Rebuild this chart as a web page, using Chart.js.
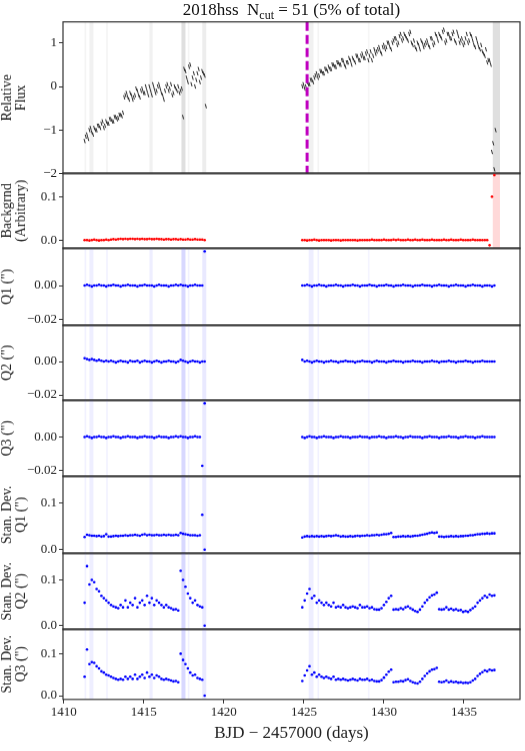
<!DOCTYPE html>
<html><head><meta charset="utf-8">
<script src="https://cdn.jsdelivr.net/npm/chart.js@4.4.0/dist/chart.umd.min.js"></script>
<style>
body{margin:0;background:#fff;width:525px;height:751px;position:relative;overflow:hidden}
canvas{position:absolute;left:0}
#title{position:absolute;top:0px;left:63px;width:457px;text-align:center;font:17px "Liberation Serif",serif;color:#111;z-index:5}
</style></head><body>
<div id="title">2018hss&nbsp; N<sub style="font-size:12px">cut</sub> = 51 (5% of total)</div>
<script>
// sampling grids (days) for the two observing segments
const seg1Start = 1411.3, seg2Start = 1424.9, step = 0.15, halfStep = 0.075;
const flux1 = [-1.25,-1.1,-1.0,-1.05,-0.95,-1.0,-0.9,-0.85,-0.95,-0.8,-0.85,-0.75,-0.8,-0.7,-0.72,-0.65,-0.6,
 -0.2,-0.25,-0.15,-0.3,-0.2,-0.1,-0.25,-0.05,-0.15,-0.1,0.0,-0.2,-0.05,-0.1,0.05,-0.15,-0.3,0.0,-0.1,0.05,-0.15,-0.05,0.0,-0.1,
 -0.7,0.35,0.1,0.5,0.2,0.0,0.3,0.1,0.35,0.25];
const flux1b = [-1.15,-1.2,-0.95,-1.1,-1.0,-0.9,-0.95,-0.8,-0.9,-0.85,-0.75,-0.8,-0.7,-0.75,-0.65,-0.68,
 -0.25,-0.15,-0.3,-0.2,-0.25,-0.05,-0.2,-0.1,-0.15,0.0,-0.2,-0.1,0.05,-0.15,0.0,-0.05,-0.2,-0.1,0.05,-0.05,-0.2,0.0,-0.1,-0.15,-0.05,
 0.4,0.2,0.45,0.05,0.3,0.15,0.4,0.2,0.3,-0.45];
const flux2 = [0.0,-0.05,0.1,0.05,0.15, 0.2,0.3,0.25,0.35,0.3,0.4,
 0.45,0.4,0.5,0.45,0.55,0.5,0.6,0.45,0.55,0.6, 0.65,0.55,0.7,0.6,0.75,0.65,0.8,0.7,0.6,0.85,
 0.8,0.9,0.75,0.95,0.9,1.0,0.85,1.05,1.1,1.0, 1.2,1.1,1.15,1.05,1.25,0.95,0.9,1.0,0.85,1.0,
 0.95,1.05,0.9,1.1,1.0,1.15,1.2,1.1,1.3,1.05, 1.2,1.1,1.25,1.0,1.15,1.05,0.95,1.1,1.0,1.2,
 1.05,0.9,1.0,0.85,0.8,0.7,0.55,0.6,-1.5,-1.9];
const flux2b = [0.05,0.0,0.05,0.15,0.1, 0.25,0.2,0.35,0.3,0.4,0.35,
 0.4,0.5,0.45,0.55,0.5,0.6,0.5,0.55,0.65,0.5, 0.6,0.7,0.6,0.7,0.65,0.75,0.6,0.8,0.7,0.75,
 0.85,0.8,0.9,0.85,1.0,0.9,1.0,1.1,0.95,1.15, 1.05,1.2,1.1,1.2,1.0,1.05,0.85,0.95,1.05,0.9,
 1.0,0.95,1.1,0.95,1.2,1.05,1.15,1.25,1.0,1.2, 1.1,1.2,1.05,1.25,1.0,1.1,1.0,1.2,1.05,1.15,
 0.95,1.1,0.9,0.95,0.75,0.85,0.6,0.5,-1.3,-1.0];
const bg1 = [0,0,-0.001,0,0.001,0,-0.001,0,0,0.001, 0,0.001,0.002,0.001,0.002,0.003,0.002,0.003,0.002,0.003,
 0.003,0.002,0.003,0.002,0.003,0.002,0.002,0.003,0.002,0.002, 0.003,0.002,0.002,0.001,0.002,0.002,0.001,0.002,0.002,0.001,
 0.002,0.001,0.001,0.002,0.001,0.001,0.002,0.001,0.001,0.001,0];
const bg2 = [0,0,-0.001,0,0,0.001,0,-0.001,0,0, 0,0,-0.001,0,0,0,-0.001,0,0,0, 0,0,0,-0.001,0,0,0,0,0,0.001,
 0,0,0,0,0.001,0,0,0,0.001,0, 0.001,0,0,0,0.001,0,0,0.001,0,0, 0.001,0,0,0,0.001,0,0,0,0,0.001,
 0,0,0.001,0,0,0,0.001,0,0,0, 0,0.001,0,0,0,0,0,0,-0.012,0.1,0.15];
const q1a = [0,0.0005,0,-0.0005,0,0,0.0005,0,0,-0.0005, 0,0,0.0005,0,0,-0.0005,0,0,0.0005,0, 0,0,-0.0005,0,0,0.0005,0,0,0,-0.0005,
 0,0.0005,0,0,0,-0.0005,0,0,0.0005,0, 0.0005,0,0,-0.0005,0,0,0.0005,0,0,0,0.02];
const q1b = [0,0,0.0005,0,-0.0005,0,0,0.0005,0,0, -0.0005,0,0,0,0.0005,0,0,-0.0005,0,0, 0,0.0005,0,0,-0.0005,0,0,0,0.0005,0,
 0,-0.0005,0,0,0,0.0005,0,0,-0.0005,0, 0,0,0.0005,0,0,0,-0.0005,0,0,0, 0.0005,0,0,0,-0.0005,0,0,0.0005,0,0,
 0,-0.0005,0,0,0.0005,0,0,0,-0.0005,0, 0,0.0005,0,0,0,-0.0005,0,0,0,-0.0005,0];
const q2a = [0.002,0.0015,0.001,0.0015,0.001,0.0005,0.001,0.0005,0,0.0005, 0,0.0005,0,-0.0005,0,0.0005,0,0,-0.0005,0.0005,
 0,0,0.0005,-0.0005,0,0.0005,0,0,-0.0005,0, 0.0005,0,-0.0005,0,0,0.0005,0,0,-0.0005,0, 0.001,0.0005,0,-0.0005,0,0.0005,0,0,-0.0005,0,0];
const q2b = [0.001,0,0.0005,0,-0.0005,0,0.0005,0,0,-0.0005, 0,0,0.0005,0,0,-0.0005,0,0,0.0005,0, 0,0,-0.0005,0,0,0.0005,0,0,0,-0.0005,
 0,0.0005,0,0,0,-0.0005,0,0,0.0005,0, 0,0,-0.0005,0,0,0,0.0005,0,0,0, -0.0005,0,0,0,0.0005,0,0,-0.0005,0,0,
 0,0.0005,0,0,-0.0005,0,0,0,0.0005,0, 0,-0.0005,0,0,0,0.0005,0,0,0,0,0];
const q3a = [0,0.0005,0,-0.0005,0,0,0.0005,0,0,-0.0005, 0,0,0.0005,0,0,-0.0005,0,0,0.0005,0, 0,0,-0.0005,0,0,0.0005,0,0,0,-0.0005,
 0,0.0005,0,0,0,-0.0005,0,0,0.0005,0, 0.0005,0,0,-0.0005,0,0,0.0005,0,0,-0.017,0.02];
const q3b = [0,-0.0005,0,0.0005,0,0,-0.0005,0,0,0.0005, 0,0,0,-0.0005,0,0,0.0005,0,0,0, -0.0005,0,0,0,0.0005,0,0,0,-0.0005,0,
 0,0,0.0005,0,0,-0.0005,0,0,0,0.0005, 0,0,-0.0005,0,0,0.0005,0,0,0,0, -0.0005,0,0,0.0005,0,0,0,-0.0005,0,0,
 0,0.0005,0,0,0,-0.0005,0,0,0.0005,0, 0,0,-0.0005,0,0,0.0005,0,0,0,0,0];
const sdq1a = [0.027,0.032,0.031,0.03,0.03,0.029,0.03,0.028,0.029,0.033, 0.028,0.028,0.029,0.03,0.029,0.03,0.03,0.031,0.03,0.031,
 0.031,0.032,0.031,0.03,0.032,0.033,0.031,0.032,0.031,0.031, 0.032,0.031,0.031,0.032,0.031,0.032,0.031,0.031,0.032,0.031,
 0.036,0.034,0.033,0.032,0.031,0.031,0.031,0.03,0.031,0.075,0.0];
const sdq1b = [0.026,0.028,0.029,0.028,0.029,0.028,0.029,0.028,0.029,0.028, 0.029,0.03,0.029,0.03,0.031,0.03,0.028,0.029,0.028,0.028,
 0.029,0.028,0.029,0.03,0.029,0.03,0.03,0.031,0.03,0.031, 0.031,0.032,0.031,0.032,0.033,0.033,0.034,0.036,
 0.027,0.027,0.028,0.028,0.029,0.028,0.029,0.028,0.029,0.03, 0.03,0.031,0.032,0.033,0.034,0.036,0.037,0.036,0.037,
 0.028,0.028,0.027,0.028,0.028,0.029,0.028,0.029,0.028,0.029, 0.029,0.03,0.03,0.031,0.031,0.032,0.033,0.033,0.034,0.034,0.035,0.034,0.035,0.035];
const sdq2a = [0.05,0.13,0.09,0.1,0.095,0.08,0.075,0.065,0.06,0.055, 0.05,0.045,0.042,0.04,0.038,0.045,0.04,0.055,0.04,0.05,
 0.045,0.06,0.04,0.05,0.055,0.045,0.065,0.05,0.06,0.045, 0.055,0.05,0.045,0.04,0.045,0.04,0.038,0.035,0.036,0.033,
 0.12,0.1,0.085,0.07,0.06,0.05,0.055,0.045,0.042,0.04,0.0];
const sdq2b = [0.04,0.055,0.07,0.08,0.06,0.065,0.05,0.055,0.05,0.045, 0.05,0.045,0.042,0.05,0.04,0.042,0.04,0.045,0.04,0.038,
 0.04,0.042,0.04,0.038,0.045,0.04,0.04,0.042,0.038,0.04, 0.036,0.035,0.035,0.038,0.045,0.052,0.06,0.065,
 0.035,0.036,0.035,0.038,0.036,0.04,0.042,0.038,0.035,0.032, 0.03,0.035,0.042,0.05,0.056,0.062,0.066,0.068,0.072,
 0.036,0.035,0.036,0.04,0.035,0.037,0.034,0.036,0.033,0.034, 0.03,0.032,0.03,0.034,0.038,0.042,0.05,0.055,0.06,0.065,0.062,0.068,0.065,0.066];
const sdq3a = [0.045,0.11,0.075,0.08,0.078,0.07,0.065,0.058,0.055,0.05, 0.048,0.045,0.042,0.04,0.038,0.04,0.038,0.045,0.04,0.045,
 0.04,0.05,0.04,0.045,0.05,0.042,0.055,0.045,0.05,0.042, 0.048,0.045,0.04,0.038,0.04,0.038,0.036,0.034,0.035,0.032,
 0.1,0.085,0.075,0.065,0.055,0.048,0.05,0.042,0.04,0.038,0.0];
const sdq3b = [0.035,0.048,0.06,0.07,0.05,0.055,0.045,0.05,0.045,0.042, 0.045,0.042,0.04,0.045,0.038,0.04,0.038,0.04,0.038,0.036,
 0.038,0.04,0.038,0.036,0.04,0.038,0.038,0.04,0.036,0.038, 0.035,0.034,0.034,0.037,0.043,0.05,0.057,0.062,
 0.032,0.033,0.033,0.035,0.034,0.037,0.039,0.035,0.032,0.03, 0.029,0.033,0.04,0.047,0.053,0.058,0.062,0.063,0.066,
 0.033,0.032,0.033,0.036,0.032,0.034,0.032,0.033,0.031,0.032, 0.03,0.031,0.03,0.032,0.036,0.04,0.047,0.052,0.056,0.06,0.058,0.062,0.06,0.061];
// cut intervals [start, end, alpha]
const cutBands = [[1411.3,1411.4,0.5],[1411.6,1411.85,0.6],[1412.65,1412.75,0.5],[1415.35,1415.55,0.6],
 [1417.35,1417.6,1.4],[1417.75,1417.85,0.5],[1418.65,1418.9,0.8],[1425.3,1425.6,0.6],[1425.85,1425.95,0.5],[1429.0,1429.1,0.4]];
const endBand = [1436.8,1437.25];
const eventDay = 1425.2;
const xTicks = [1410,1415,1420,1425,1430,1435];

function pts(start, vals){ return vals.map((v,i)=>({x:+(start+i*step).toFixed(3), y:v})); }
function both(a,b){ return pts(seg1Start,a).concat(pts(seg2Start,b)); }
function bothHalf(a,b){ return pts(seg1Start+halfStep,a).concat(pts(seg2Start+halfStep,b)); }

const serif = '"Liberation Serif", "DejaVu Serif", serif';
const panels = [
 {top:22,h:151,title:['Relative','Flux'],data:both(flux1,flux2).concat(bothHalf(flux1b,flux2b)),color:'#111',min:-2,max:1.48,ticks:[-2,-1,0,1],dec:0,band:'grey',end:'grey',event:true,dash:true},
 {top:173,h:75,title:['Backgrnd','(Arbitrary)'],data:both(bg1,bg2),color:'#ff0000',min:-0.02,max:0.155,ticks:[0,0.1],dec:1,band:null,end:'red'},
 {top:248,h:77,title:['Q1 (")'],data:both(q1a,q1b),color:'#0000ff',min:-0.0235,max:0.022,ticks:[-0.02,0],dec:2,band:'blue'},
 {top:325,h:75,title:['Q2 (")'],data:both(q2a,q2b),color:'#0000ff',min:-0.0235,max:0.022,ticks:[-0.02,0],dec:2,band:'blue'},
 {top:400,h:76,title:['Q3 (")'],data:both(q3a,q3b),color:'#0000ff',min:-0.0235,max:0.022,ticks:[-0.02,0],dec:2,band:'blue'},
 {top:476,h:77,title:['Stan. Dev.','Q1 (")'],data:both(sdq1a,sdq1b),color:'#0000ff',min:-0.009,max:0.159,ticks:[0,0.1],dec:1,band:'blue'},
 {top:553,h:76,title:['Stan. Dev.','Q2 (")'],data:both(sdq2a,sdq2b),color:'#0000ff',min:-0.009,max:0.159,ticks:[0,0.1],dec:1,band:'blue'},
 {top:629,h:76,title:['Stan. Dev.','Q3 (")'],data:both(sdq3a,sdq3b),color:'#0000ff',min:-0.009,max:0.159,ticks:[0,0.1],dec:1,band:'blue',last:true}
];

const deco = {
 id:'deco',
 beforeDatasetsDraw(chart){
  const p = chart.options.plugins.deco, ctx = chart.ctx, a = chart.chartArea, xs = chart.scales.x;
  ctx.save();
  if(p.band){
   const rgb = p.band==='grey' ? '128,128,128' : '100,100,255';
   cutBands.forEach(b=>{
    const x0 = xs.getPixelForValue(b[0]), x1 = xs.getPixelForValue(b[1]);
    ctx.fillStyle = `rgba(${rgb},${0.18*b[2]})`;
    ctx.fillRect(x0,a.top,Math.max(1,x1-x0),a.bottom-a.top);
   });
  }
  if(p.end){
   const x0 = xs.getPixelForValue(endBand[0]), x1 = xs.getPixelForValue(endBand[1]);
   ctx.fillStyle = p.end==='grey' ? 'rgba(128,128,128,0.25)' : 'rgba(255,0,0,0.15)';
   ctx.fillRect(x0,a.top,x1-x0,a.bottom-a.top);
  }
  ctx.restore();
 },
 afterDatasetsDraw(chart){
  const p = chart.options.plugins.deco, ctx = chart.ctx, a = chart.chartArea, xs = chart.scales.x;
  ctx.save();
  if(p.event){
   const x = xs.getPixelForValue(eventDay);
   ctx.strokeStyle = '#bf00bf'; ctx.lineWidth = 3; ctx.setLineDash([9,4]);
   ctx.beginPath(); ctx.moveTo(x,a.top); ctx.lineTo(x,a.bottom); ctx.stroke();
   ctx.setLineDash([]);
  }
  ctx.strokeStyle = '#333'; ctx.lineWidth = 1.2;
  ctx.strokeRect(a.left,a.top,a.right-a.left,a.bottom-a.top);
  ctx.restore();
 }
};

panels.forEach(p=>{
 const c = document.createElement('canvas');
 const hh = p.last ? 751-p.top : p.h;
 c.width = 525; c.height = hh;
 c.style.top = p.top+'px';
 document.body.appendChild(c);
 const ds = p.dash
  ? {data:p.data,pointStyle:'line',rotation:75,pointRadius:2.2,borderColor:p.color,backgroundColor:p.color,pointBorderWidth:0.9,pointHoverRadius:2.2}
  : {data:p.data,backgroundColor:p.color,borderColor:p.color,pointRadius:1.3,pointBorderWidth:0,pointHoverRadius:1.3};
 const chart = new Chart(c,{
  type:'scatter',
  data:{datasets:[ds]},
  options:{
   responsive:false,maintainAspectRatio:false,animation:false,devicePixelRatio:1,
   layout:{padding:{left:0,right:5,top:0,bottom:0}},
   plugins:{legend:{display:false},tooltip:{enabled:false},deco:{band:p.band,end:p.end,event:p.event}},
   scales:{
    x:{type:'linear',min:1409.95,max:1438.5,display:!!p.last,
       afterBuildTicks:s=>{s.ticks=xTicks.map(v=>({value:v}));},
       grid:{drawOnChartArea:false,drawTicks:true,tickLength:4,color:'#333'},border:{display:false},
       ticks:{font:{family:serif,size:13},color:'#222',padding:1,maxRotation:0,callback:v=>String(v)},
       title:{display:true,text:'BJD − 2457000 (days)',font:{family:serif,size:17},color:'#222',padding:{top:2,bottom:8}}},
    y:{min:p.min,max:p.max,
       afterBuildTicks:s=>{s.ticks=p.ticks.map(v=>({value:v}));},
       afterFit:s=>{s.width=63;},
       grid:{drawOnChartArea:false,drawTicks:true,tickLength:4,color:'#333'},border:{display:false},
       ticks:{font:{family:serif,size:13},color:'#222',padding:2,
              callback:v=>v.toFixed(p.dec).replace('-','−')},
       title:{display:true,text:p.title,font:{family:serif,size:14,lineHeight:1.0},color:'#222',padding:{top:0,bottom:2}}}
   }
  },
  plugins:[deco]
 });
 // compensate the label padding Chart.js reserves so plot areas abut
 const a = chart.chartArea;
 const extra = a.top + (hh - a.bottom);
 const target = p.last ? hh + a.top : p.h + extra;
 chart.resize(525, target);
 c.style.top = (p.top - chart.chartArea.top) + 'px';
});
</script>
</body></html>
